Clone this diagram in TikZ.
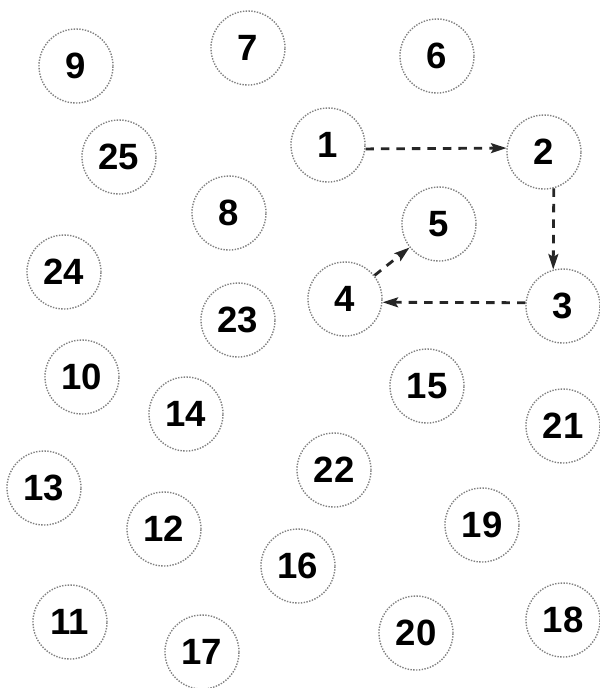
\documentclass[tikz,border=0pt]{standalone}
\usepackage{fontspec}
\setmainfont{Liberation Sans}
\usetikzlibrary{arrows.meta}

\begin{document}
\begin{tikzpicture}[
  x=0.025cm, y=-0.025cm,
  vertex/.style={draw=gray, densely dotted, line width=1pt, circle,
    minimum size=1.85cm, inner sep=0pt,
    font=\fontsize{26}{30}\selectfont\bfseries},
  arrow/.style={line width=2pt, black!85, dash pattern=on 6pt off 5pt,
    -{Stealth[length=11pt,width=7pt,inset=2pt]}}
]
\useasboundingbox (0,0) rectangle (599,688);

\node[vertex] (v9) at (76,66) {9};
\node[vertex] (v7) at (248,48) {7};
\node[vertex] (v6) at (437,56) {6};
\node[vertex] (v25) at (119,157) {25};
\node[vertex] (v1) at (328,145) {1};
\node[vertex] (v2) at (544,152) {2};
\node[vertex] (v8) at (229,213) {8};
\node[vertex] (v5) at (439,224) {5};
\node[vertex] (v24) at (64,272) {24};
\node[vertex] (v4) at (345,299) {4};
\node[vertex] (v3) at (563,306) {3};
\node[vertex] (v23) at (238,320) {23};
\node[vertex] (v10) at (82,377) {10};
\node[vertex] (v15) at (427,386) {15};
\node[vertex] (v14) at (186,414) {14};
\node[vertex] (v21) at (563,426) {21};
\node[vertex] (v13) at (44,488) {13};
\node[vertex] (v22) at (334,470) {22};
\node[vertex] (v12) at (164,529) {12};
\node[vertex] (v19) at (482,525) {19};
\node[vertex] (v16) at (298,566) {16};
\node[vertex] (v11) at (70,622) {11};
\node[vertex] (v17) at (202,652) {17};
\node[vertex] (v20) at (416,633) {20};
\node[vertex] (v18) at (563,620) {18};

\draw[arrow] (v1.-6) -- (v2.174);
\draw[arrow] (v2.-75) -- (v3.105);
\draw[arrow] (v3.175) -- (v4.-5);
\draw[arrow] (v4) -- (v5);
\end{tikzpicture}
\end{document}
